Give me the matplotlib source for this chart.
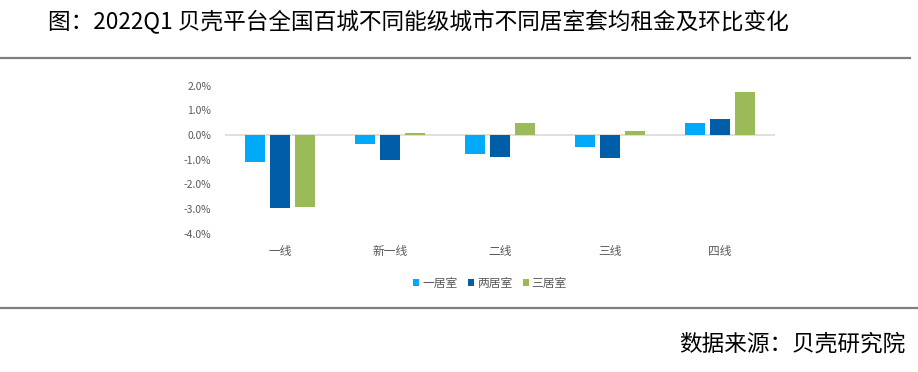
import matplotlib
matplotlib.use("Agg")
import matplotlib.pyplot as plt
import numpy as np
from matplotlib.lines import Line2D
from matplotlib.patches import Patch

plt.rcParams['font.family'] = ['Noto Sans CJK SC', 'DejaVu Sans']

categories = ["一线", "新一线", "二线", "三线", "四线"]
series_names = ["一居室", "两居室", "三居室"]
one_room = [-1.12, -0.38, -0.76, -0.49, 0.46]
two_room = [-2.98, -1.01, -0.89, -0.93, 0.65]
three_room = [-2.94, 0.09, 0.46, 0.16, 1.74]
yticks = [2.0, 1.0, 0.0, -1.0, -2.0, -3.0, -4.0]
title = "图：2022Q1 贝壳平台全国百城不同能级城市不同居室套均租金及环比变化"
source = "数据来源：贝壳研究院"

colors = ["#00AAF8", "#005DA8", "#9BBB59"]

W, H = 918, 372
fig = plt.figure(figsize=(W / 100, H / 100), dpi=100)

ax = fig.add_axes([225 / W, 1 - 233.5 / H, 550 / W, (233.5 - 85.5) / H])
x = np.arange(len(categories))
width = 0.18
offset = 0.227
for i, (vals, c) in enumerate(zip([one_room, two_room, three_room], colors)):
    ax.bar(x + (i - 1) * offset, vals, width=width, color=c, zorder=2)

ax.axhline(0, color="#D9D9D9", lw=1.2, zorder=1)
ax.set_xlim(-0.5, len(categories) - 0.5)
ax.set_ylim(-4.0, 2.0)
ax.set_yticks(yticks)
ax.set_yticklabels([f"{v:.1f}%" for v in yticks], fontsize=7.5, color="#595959")
ax.set_xticks(x)
ax.set_xticklabels(categories, fontsize=8.5, color="#595959")
ax.tick_params(axis="both", length=0)
ax.tick_params(axis="x", pad=8)
ax.tick_params(axis="y", pad=10)
for s in ax.spines.values():
    s.set_visible(False)

handles = [Patch(facecolor=c, edgecolor="none") for c in colors]
leg = fig.legend(handles, series_names, loc="center", ncol=3, frameon=False,
                 bbox_to_anchor=(490 / W, 1 - 283 / H), fontsize=8.5,
                 handlelength=0.5, handleheight=0.5, handletextpad=0.25,
                 columnspacing=0.9)
for t in leg.get_texts():
    t.set_color("#595959")

# title and separators
fig.text(48 / W, 1 - 22 / H, title, fontsize=16.3, va="center", ha="left", color="#000000")
fig.add_artist(Line2D([0, 910 / W], [1 - 57.7 / H] * 2, color="#7F7F7F", lw=1.6,
                      transform=fig.transFigure))
fig.add_artist(Line2D([0, 1], [1 - 307.7 / H] * 2, color="#7F7F7F", lw=1.6,
                      transform=fig.transFigure))
fig.text(905 / W, 1 - 344 / H, source, fontsize=16.3, va="center", ha="right", color="#000000")

fig.savefig("out.png", dpi=100)
